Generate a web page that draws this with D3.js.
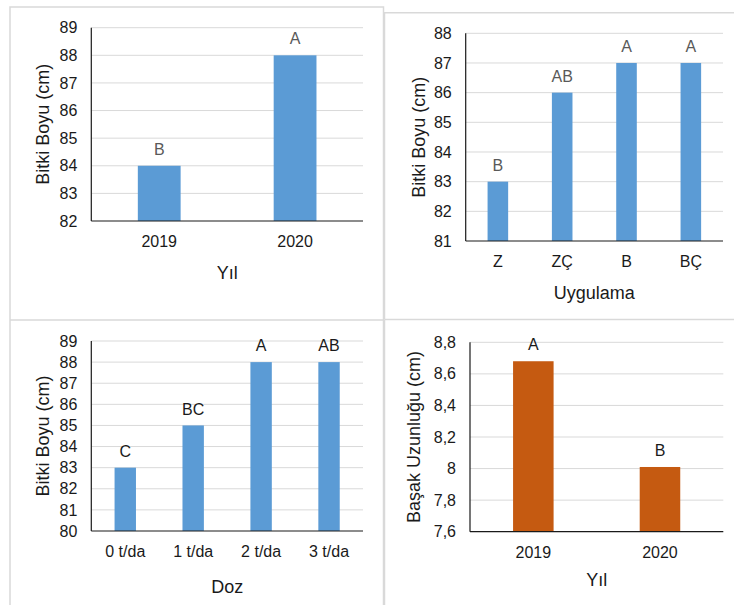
<!DOCTYPE html>
<html>
<head>
<meta charset="utf-8">
<script src="https://cdn.jsdelivr.net/npm/d3@7"></script>
<style>
  html, body { margin: 0; padding: 0; background: #fff; }
  svg { display: block; font-family: "Liberation Sans", Arial, sans-serif; }
</style>
</head>
<body>
<svg id="chart" width="734" height="605"></svg>
<script>
// Plant height (Bitki Boyu) by year
const yearCats = ["2019", "2020"];
const heightByYear = [84, 88];
const heightByYearLetters = ["B", "A"];
const heightByYearTicks = [82, 83, 84, 85, 86, 87, 88, 89];

// Plant height by application
const treatCats = ["Z", "ZÇ", "B", "BÇ"];
const heightByTreat = [83, 86, 87, 87];
const heightByTreatLetters = ["B", "AB", "A", "A"];
const heightByTreatTicks = [81, 82, 83, 84, 85, 86, 87, 88];

// Plant height by dose
const doseCats = ["0 t/da", "1 t/da", "2 t/da", "3 t/da"];
const heightByDose = [83, 85, 88, 88];
const heightByDoseLetters = ["C", "BC", "A", "AB"];
const heightByDoseTicks = [80, 81, 82, 83, 84, 85, 86, 87, 88, 89];

// Spike length (Başak Uzunluğu) by year
const spikeYearCats = ["2019", "2020"];
const spikeByYear = [8.68, 8.01];
const spikeByYearLetters = ["A", "B"];
const spikeByYearTicks = [7.6, 7.8, 8.0, 8.2, 8.4, 8.6, 8.8];

const svg = d3.select("#chart");

// Panel frames
const frameColor = "#d9d9d9";
const frames = svg.append("g").attr("stroke", frameColor).attr("stroke-width", 1.5).attr("fill", "none");
frames.append("path").attr("d", "M10,320 V7 H383.5 V605");
frames.append("path").attr("d", "M10,320 V605");
frames.append("path").attr("d", "M384.5,319.5 V12.7 H734");
frames.append("path").attr("d", "M10,320 H383.5");
frames.append("path").attr("d", "M384.5,319.5 H734");
frames.append("path").attr("d", "M384.5,319.5 V605");

const commaFmt = v => d3.format("")(+v.toFixed(1)).replace(".", ",");

function drawPanel(cfg) {
  const g = svg.append("g");
  const x = d3.scaleBand()
    .domain(cfg.cats)
    .range([cfg.left, cfg.right])
    .paddingInner(cfg.pad)
    .paddingOuter(cfg.pad / 2);
  const y = d3.scaleLinear()
    .domain([cfg.ticks[0], cfg.ticks[cfg.ticks.length - 1]])
    .range([cfg.bottom, cfg.top]);

  // gridlines
  g.append("g")
    .selectAll("line")
    .data(cfg.ticks.slice(1))
    .join("line")
    .attr("x1", cfg.left).attr("x2", cfg.right)
    .attr("y1", d => y(d)).attr("y2", d => y(d))
    .attr("stroke", "#d9d9d9").attr("stroke-width", 1);

  // y axis labels
  const yAxis = d3.axisLeft(y).tickValues(cfg.ticks).tickSize(0).tickPadding(14)
    .tickFormat(cfg.fmt || (d => d));
  const ya = g.append("g").attr("transform", `translate(${cfg.left},0)`).call(yAxis);
  ya.select(".domain").remove();
  ya.selectAll("text").attr("font-size", 16).attr("fill", "#1a1a1a")
    .attr("font-family", "'Liberation Sans', Arial, sans-serif");

  // x axis labels
  const xAxis = d3.axisBottom(x).tickSize(0).tickPadding(0);
  const xa = g.append("g").attr("transform", `translate(0,${cfg.bottom})`).call(xAxis);
  xa.select(".domain").remove();
  xa.selectAll("text").attr("font-size", 16).attr("fill", "#1a1a1a")
    .attr("y", 20.5).attr("dy", "0.35em")
    .attr("font-family", "'Liberation Sans', Arial, sans-serif");

  // bars
  g.append("g")
    .selectAll("rect")
    .data(cfg.values)
    .join("rect")
    .attr("x", (d, i) => x(cfg.cats[i]))
    .attr("width", x.bandwidth())
    .attr("y", d => y(d))
    .attr("height", d => cfg.bottom - y(d))
    .attr("fill", cfg.color);

  // significance letters
  g.append("g")
    .selectAll("text")
    .data(cfg.values)
    .join("text")
    .attr("x", (d, i) => x(cfg.cats[i]) + x.bandwidth() / 2)
    .attr("y", d => y(d) - 16.5)
    .attr("dy", "0.35em")
    .attr("text-anchor", "middle")
    .attr("font-size", 16)
    .attr("fill", cfg.letterColor)
    .text((d, i) => cfg.letters[i]);

  // axis lines
  g.append("line")
    .attr("x1", cfg.left).attr("x2", cfg.left)
    .attr("y1", cfg.top).attr("y2", cfg.bottom)
    .attr("stroke", "#1a1a1a").attr("stroke-width", 1.2);
  g.append("line")
    .attr("x1", cfg.left).attr("x2", cfg.right)
    .attr("y1", cfg.bottom).attr("y2", cfg.bottom)
    .attr("stroke", "#1a1a1a").attr("stroke-width", 1.2);

  // axis titles
  g.append("text")
    .attr("x", (cfg.left + cfg.right) / 2)
    .attr("y", cfg.bottom + cfg.xTitleOffset)
    .attr("dy", "0.35em")
    .attr("text-anchor", "middle")
    .attr("font-size", 18)
    .attr("fill", "#1a1a1a")
    .text(cfg.xTitle);
  g.append("text")
    .attr("transform", `translate(${cfg.left - cfg.yTitleOffset},${(cfg.top + cfg.bottom) / 2}) rotate(-90)`)
    .attr("dy", "0.35em")
    .attr("text-anchor", "middle")
    .attr("font-size", 18)
    .attr("fill", "#1a1a1a")
    .text(cfg.yTitle);
}

const blue = "#5b9bd5";
const orange = "#c55a11";

drawPanel({
  cats: yearCats, values: heightByYear, letters: heightByYearLetters, ticks: heightByYearTicks,
  left: 91.3, right: 363, top: 27.7, bottom: 221, pad: 0.685,
  color: blue, letterColor: "#595959",
  xTitle: "Yıl", yTitle: "Bitki Boyu (cm)", xTitleOffset: 51.5, yTitleOffset: 48.3
});

drawPanel({
  cats: treatCats, values: heightByTreat, letters: heightByTreatLetters, ticks: heightByTreatTicks,
  left: 465.7, right: 723, top: 33.3, bottom: 241, pad: 0.68,
  color: blue, letterColor: "#595959",
  xTitle: "Uygulama", yTitle: "Bitki Boyu (cm)", xTitleOffset: 52, yTitleOffset: 47.4
});

drawPanel({
  cats: doseCats, values: heightByDose, letters: heightByDoseLetters, ticks: heightByDoseTicks,
  left: 91.3, right: 363, top: 341, bottom: 531, pad: 0.685,
  color: blue, letterColor: "#1a1a1a",
  xTitle: "Doz", yTitle: "Bitki Boyu (cm)", xTitleOffset: 55.7, yTitleOffset: 48.3
});

drawPanel({
  cats: spikeYearCats, values: spikeByYear, letters: spikeByYearLetters, ticks: spikeByYearTicks,
  left: 470, right: 723.3, top: 342.3, bottom: 531.7, pad: 0.68,
  color: orange, letterColor: "#1a1a1a", fmt: commaFmt,
  xTitle: "Yıl", yTitle: "Başak Uzunluğu (cm)", xTitleOffset: 48.3, yTitleOffset: 56.7
});
</script>
</body>
</html>
